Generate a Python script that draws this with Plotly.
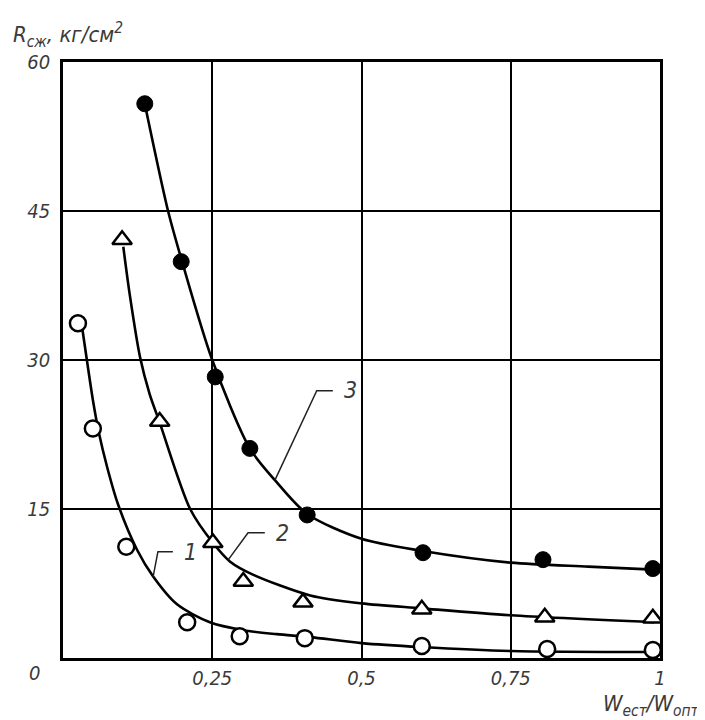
import plotly.graph_objects as go

# ---- data ----
# measured points
s1_x = [0.025, 0.050, 0.106, 0.208, 0.296, 0.405, 0.601, 0.811, 0.988]
s1_y = [33.7, 23.1, 11.2, 3.6, 2.2, 2.0, 1.2, 0.9, 0.8]
s2_x = [0.099, 0.162, 0.251, 0.302, 0.402, 0.601, 0.807, 0.988]
s2_y = [42.1, 23.8, 11.6, 7.7, 5.6, 4.9, 4.1, 4.0]
s3_x = [0.137, 0.198, 0.255, 0.313, 0.409, 0.603, 0.804, 0.988]
s3_y = [55.8, 39.9, 28.3, 21.1, 14.4, 10.6, 9.9, 9.0]

# fitted curves
c1_x = [0.032, 0.040, 0.050, 0.060, 0.074, 0.092, 0.124, 0.151, 0.191, 0.246, 0.302, 0.358, 0.414, 0.50, 0.60, 0.75, 0.99]
c1_y = [33.3, 30.0, 26.0, 22.7, 19.2, 15.5, 10.9, 8.2, 5.4, 3.6, 2.8, 2.4, 2.1, 1.5, 1.1, 0.7, 0.6]
c2_x = [0.101, 0.112, 0.129, 0.145, 0.162, 0.213, 0.251, 0.280, 0.318, 0.414, 0.50, 0.60, 0.75, 0.99]
c2_y = [41.4, 36.5, 30.3, 26.6, 23.7, 15.0, 11.6, 9.7, 8.4, 6.3, 5.5, 5.0, 4.3, 3.6]
c3_x = [0.138, 0.176, 0.200, 0.250, 0.313, 0.355, 0.409, 0.50, 0.60, 0.75, 0.88, 0.99]
c3_y = [55.5, 45.0, 39.8, 30.0, 21.1, 17.9, 14.5, 12.0, 10.8, 9.6, 9.2, 8.9]

# curve labels with leader lines (x, y points of the leader; label position)
labels = ["1", "2", "3"]
leader_x = [[0.151, 0.159, 0.184], [0.277, 0.310, 0.338], [0.355, 0.425, 0.452]]
leader_y = [[8.2, 10.7, 10.7], [9.9, 12.6, 12.6], [17.9, 26.9, 26.9]]
label_x = [0.200, 0.354, 0.467]
label_y = [10.7, 12.6, 27.0]

x_ticks = [0.25, 0.5, 0.75, 1]
x_ticktext = ["0,25", "0,5", "0,75", "1"]
y_ticks = [15, 30, 45, 60]
y_ticktext = ["15", "30", "45", "60"]

FONT = "DejaVu Sans Condensed, DejaVu Sans, sans-serif"
TXT = "#3a3a3a"

fig = go.Figure()

line_style = dict(color="black", width=2.6, shape="spline", smoothing=0.8)
for cx, cy in [(c1_x, c1_y), (c2_x, c2_y), (c3_x, c3_y)]:
    fig.add_trace(go.Scatter(x=cx, y=cy, mode="lines", line=line_style,
                             hoverinfo="skip", showlegend=False))

fig.add_trace(go.Scatter(x=s1_x, y=s1_y, mode="markers", showlegend=False,
                         marker=dict(symbol="circle", size=16, color="white",
                                     line=dict(color="black", width=2.5))))
fig.add_trace(go.Scatter(x=s2_x, y=s2_y, mode="markers", showlegend=False,
                         marker=dict(symbol="triangle-up", size=17, color="white",
                                     line=dict(color="black", width=2.5))))
fig.add_trace(go.Scatter(x=s3_x, y=s3_y, mode="markers", showlegend=False,
                         marker=dict(symbol="circle", size=16, color="black",
                                     line=dict(color="black", width=1))))

shapes = []
for lx, ly in zip(leader_x, leader_y):
    path = "M " + " L ".join(f"{a},{b}" for a, b in zip(lx, ly))
    shapes.append(dict(type="path", path=path, xref="x", yref="y",
                       line=dict(color="#222", width=1.5)))

annotations = []
for t, ax, ay in zip(labels, label_x, label_y):
    annotations.append(dict(x=ax, y=ay, xref="x", yref="y", text=t, showarrow=False,
                            xanchor="left", yanchor="middle",
                            font=dict(family=FONT, size=23, color=TXT, style="italic")))

annotations.append(dict(x=-0.047, y=-0.025, xref="paper", yref="paper", text="0",
                        showarrow=False, xanchor="center", yanchor="middle",
                        font=dict(family=FONT, size=20, color=TXT, style="italic")))
annotations.append(dict(x=-0.087, y=1.045, xref="paper", yref="paper",
                        text="R<sub>сж</sub>, кг/см<sup>2</sup>",
                        showarrow=False, xanchor="left", yanchor="middle",
                        font=dict(family=FONT, size=22, color=TXT, style="italic")))
annotations.append(dict(x=1.07, y=-0.079, xref="paper", yref="paper",
                        text="W<sub>ест</sub>/W<sub>опт</sub>",
                        showarrow=False, xanchor="right", yanchor="middle",
                        font=dict(family=FONT, size=22, color=TXT, style="italic")))

# page body adds an 8px offset; margins compensate so the plot sits where the reference has it
fig.update_layout(
    width=697, height=712,
    margin=dict(l=55, r=45, t=54, b=62),
    paper_bgcolor="white", plot_bgcolor="white",
    shapes=shapes, annotations=annotations,
    showlegend=False,
    xaxis=dict(range=[0, 1], tickvals=x_ticks, ticktext=x_ticktext,
               showgrid=True, gridcolor="black", gridwidth=2,
               showline=True, linecolor="black", linewidth=2.5, mirror=True,
               ticks="", zeroline=False,
               tickfont=dict(family=FONT, size=20, color=TXT, style="italic")),
    yaxis=dict(range=[0, 60], tickvals=y_ticks, ticktext=y_ticktext,
               showgrid=True, gridcolor="black", gridwidth=2,
               showline=True, linecolor="black", linewidth=2.5, mirror=True,
               ticks="", zeroline=False, ticklabelstandoff=6,
               tickfont=dict(family=FONT, size=20, color=TXT, style="italic")),
)

fig.write_html("out.html")
